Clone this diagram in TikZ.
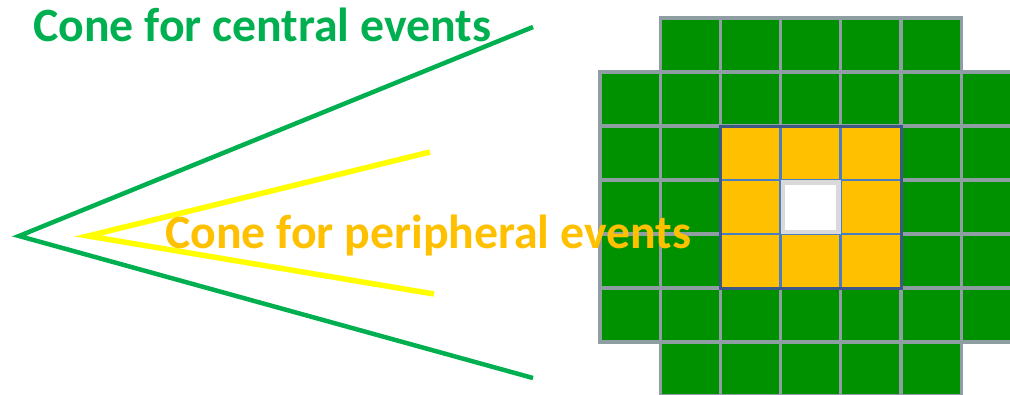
\documentclass[tikz,border=0pt]{standalone}
\usepackage{fontspec}
\setmainfont{Carlito}
\definecolor{cgreen}{HTML}{00B050}
\definecolor{cellgreen}{HTML}{009100}
\definecolor{gridgray}{HTML}{8E9EA2}
\definecolor{corange}{HTML}{FFC000}
\definecolor{lineyellow}{HTML}{FFFF00}
\definecolor{bluein}{HTML}{4A7EC4}
\definecolor{blueout}{HTML}{3B5887}
\definecolor{centergray}{HTML}{D9D9D9}
\tikzset{
  greencell/.style={fill=cellgreen, draw=gridgray, line width=3.2pt},
  yellowcell/.style={fill=corange, draw=bluein, line width=2.8pt},
  conegreen/.style={draw=cgreen, line width=4.5pt, line join=miter},
  coneyellow/.style={draw=lineyellow, line width=5.5pt, line join=miter},
  label/.style={inner sep=0pt, anchor=base west, font=\fontsize{47.8}{56}\selectfont\bfseries}
}
\begin{document}
\begin{tikzpicture}[x=1pt,y=-1pt]
\useasboundingbox (0,0) rectangle (1010,394);
\clip (0,0) rectangle (1010,394);
% grid
\foreach \c in {1,...,5}{
  \draw[greencell] ({600+60.2*\c},18) rectangle ++(60.2,54);
  \draw[greencell] ({600+60.2*\c},342) rectangle ++(60.2,54);
}
\foreach \r in {1,...,5}{
  \foreach \c in {0,...,6}{
    \draw[greencell] ({600+60.2*\c},{18+54*\r}) rectangle ++(60.2,54);
  }
}
\foreach \r in {2,3,4}{
  \foreach \c in {2,3,4}{
    \draw[yellowcell] ({600+60.2*\c},{18+54*\r}) rectangle ++(60.2,54);
  }
}
\draw[blueout, line width=3pt] (720.4,126) rectangle (901,288);
\draw[fill=white, draw=centergray, line width=4.5pt] (782.8,182.3) rectangle (838.6,232);
% cones
\coordinate (gapex) at (19,236);
\coordinate (gtop) at (533,27);
\coordinate (gbot) at (533,378);
\coordinate (yapex) at (88,236);
\coordinate (ytop) at (430,152);
\coordinate (ybot) at (434,294);
\draw[conegreen] (gtop) -- (gapex) -- (gbot);
\draw[coneyellow] (ytop) -- (yapex) -- (ybot);
% labels
\node[label, text=cgreen] (central) at (33,41) {Cone for central events};
\node[label, text=corange] (peripheral) at (165,248) {Cone for peripheral events};
\end{tikzpicture}
\end{document}
